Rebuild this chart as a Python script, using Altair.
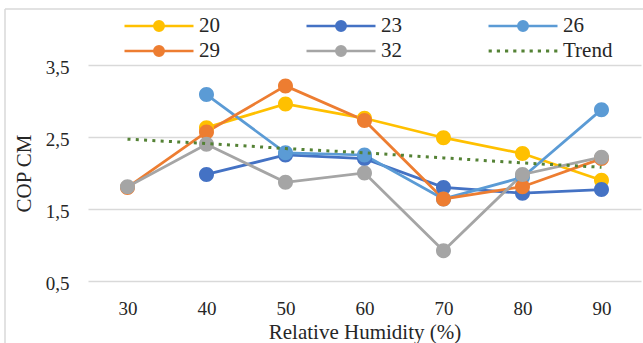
import altair as alt
import pandas as pd

# ---- data ----
humidity = [30, 40, 50, 60, 70, 80, 90]
series_names = ["20", "23", "26", "29", "32", "Trend"]
s20 = [None, 2.63, 2.96, 2.76, 2.49, 2.27, 1.90]
s23 = [None, 1.98, 2.25, 2.20, 1.80, 1.72, 1.77]
s26 = [None, 3.09, 2.28, 2.25, 1.64, 1.94, 2.88]
s29 = [1.80, 2.57, 3.21, 2.73, 1.64, 1.81, 2.20]
s32 = [1.81, 2.40, 1.87, 2.00, 0.92, 1.98, 2.22]
trend = [2.47, 2.41, 2.34, 2.28, 2.21, 2.14, 2.08]
y_ticks = [0.5, 1.5, 2.5, 3.5]

colors = ["#FFC000", "#4472C4", "#5B9BD5", "#ED7D31", "#A5A5A5", "#548235"]

rows = []
for name, vals in zip(series_names[:5], [s20, s23, s26, s29, s32]):
    for h, v in zip(humidity, vals):
        if v is not None:
            rows.append({"rh": h, "cop": v, "series": name})
main_df = pd.DataFrame(rows)
trend_df = pd.DataFrame({"rh": humidity, "cop": trend, "series": "Trend"})

# legend symbol shapes (line + marker, dotted line for trend); line runs -3..3
r = 0.413
line_marker = (f"M-3,0L3,0M{r},0A{r},{r} 0 1,1 -{r},0A{r},{r} 0 1,1 {r},0Z")
dots = ""
for k in range(9):
    cx = -2.85 + k * 0.7125
    dots += f"M{cx - 0.03:.4f},-0.03h0.06v0.06h-0.06Z"
shapes = [line_marker] * 5 + [dots]

FONT = "Liberation Serif"
TXT = "#262626"

legend = alt.Legend(
    title=None, orient="none", legendX=58, legendY=-52, columns=3,
    direction="horizontal", symbolSize=529, symbolStrokeWidth=2.5,
    labelFont=FONT, labelFontSize=21, labelColor=TXT, labelOffset=27,
    gridAlign="each", columnPadding=81, rowPadding=2, padding=0,
)

xenc = alt.X("rh:Q", scale=alt.Scale(domain=[25, 95], nice=False, zero=False),
             axis=alt.Axis(values=humidity, grid=False, ticks=False, tickSize=0,
                           domain=False, labelFontSize=19, labelPadding=18,
                           title="Relative Humidity (%)",
                           titleFontSize=21, titlePadding=3))
yenc = alt.Y("cop:Q", scale=alt.Scale(domain=[0.5, 3.5], nice=False, zero=False),
             axis=alt.Axis(values=y_ticks, grid=True, gridColor="#d9d9d9",
                           gridWidth=1.3, ticks=False, tickSize=0, domain=False,
                           labelFontSize=19, labelPadding=19, labelOffset=2,
                           labelExpr="replace(format(datum.value, '.1f'), '.', ',')",
                           title="COP CM", titleFontSize=21,
                           titleX=-64, titleY=108, titleAngle=-90,
                           titleAlign="center", titleBaseline="middle"))

stroke_scale = alt.Scale(domain=series_names, range=colors)

lines = alt.Chart(main_df).mark_line(strokeWidth=2.75).encode(
    x=xenc, y=yenc,
    stroke=alt.Stroke("series:N", scale=stroke_scale, legend=legend),
)

points = alt.Chart(main_df).mark_point(filled=True, opacity=1, size=1318).encode(
    x=xenc, y=yenc,
    fill=alt.Fill("series:N", scale=alt.Scale(domain=series_names, range=colors), legend=legend),
    shape=alt.Shape("series:N", scale=alt.Scale(domain=series_names, range=shapes), legend=legend),
)

trend_line = alt.Chart(trend_df).mark_line(strokeWidth=3, strokeDash=[3, 5.3]).encode(
    x=xenc, y=yenc,
    stroke=alt.Stroke("series:N", scale=stroke_scale, legend=legend),
)

one = pd.DataFrame({"a": [0]})
border_left = alt.Chart(one).mark_rule(color="#d9d9d9", strokeWidth=1.5).encode(
    x=alt.value(-83), y=alt.value(-56), y2=alt.value(290))
border_top = alt.Chart(one).mark_rule(color="#d9d9d9", strokeWidth=1.5).encode(
    x=alt.value(-83), x2=alt.value(560), y=alt.value(-56))

chart = alt.layer(lines, points, trend_line, border_left, border_top).properties(
    width=553, height=216,
    autosize=alt.AutoSizeParams(type="none"),
    padding={"left": 88, "top": 65, "right": 2, "bottom": 62},
    background="white",
).configure(font=FONT).configure_axis(
    labelFont=FONT, titleFont=FONT, labelColor=TXT, titleColor=TXT,
    titleFontWeight="normal",
).configure_legend(labelFont=FONT).configure_view(stroke="transparent")

chart.save("out.html", embed_options={"renderer": "svg", "actions": False})
